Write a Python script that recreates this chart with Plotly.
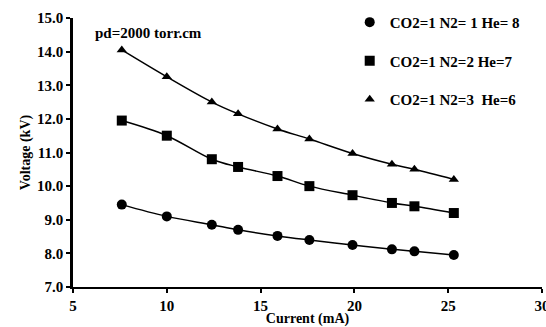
import plotly.graph_objects as go

current = [7.6, 10.0, 12.4, 13.8, 15.9, 17.6, 19.9, 22.0, 23.2, 25.3]
v_he8 = [9.45, 9.10, 8.85, 8.70, 8.52, 8.40, 8.25, 8.12, 8.06, 7.95]
v_he7 = [11.95, 11.50, 10.80, 10.57, 10.30, 10.00, 9.73, 9.50, 9.40, 9.20]
v_he6 = [14.05, 13.25, 12.50, 12.15, 11.70, 11.40, 10.97, 10.65, 10.50, 10.20]
names = ["CO2=1 N2= 1 He= 8", "CO2=1 N2=2 He=7", "CO2=1 N2=3  He=6"]
symbols = ["circle", "square", "triangle-up"]
sizes = [10, 10, 9]
series = [v_he8, v_he7, v_he6]
y_ticks = [7.0, 8.0, 9.0, 10.0, 11.0, 12.0, 13.0, 14.0, 15.0]
x_ticks = [5, 10, 15, 20, 25, 30]

font = "Liberation Serif"
fig = go.Figure()
for i, ys in enumerate(series):
    fig.add_trace(go.Scatter(x=current, y=ys, mode="lines", line=dict(color="black", width=1.5, shape="spline", smoothing=1.0),
                             showlegend=False, hoverinfo="skip"))
for i, ys in enumerate(series):
    fig.add_trace(go.Scatter(x=current, y=ys, mode="markers", name=names[i], legendgroup=str(i),
                             marker=dict(symbol=symbols[i], size=sizes[i], color="black")))

fig.update_layout(
    width=546, height=327,
    margin=dict(l=73, r=4, t=18, b=40),
    paper_bgcolor="white", plot_bgcolor="white",
    font=dict(family=font, color="black", size=15),
    showlegend=True,
    legend=dict(x=0.59, y=1.045, xanchor="left", yanchor="top", bgcolor="rgba(0,0,0,0)",
                font=dict(family=font, size=15, color="black", weight="bold"),
                tracegroupgap=16, itemwidth=30),
    annotations=[dict(x=9.0, y=14.55, xref="x", yref="y", text="<b>pd=2000 torr.cm</b>", showarrow=False,
                      font=dict(family=font, size=15, color="black"))],
)
fig.update_xaxes(range=[5, 30], tickvals=x_ticks, ticktext=[f"<b>{v}</b>" for v in x_ticks],
                 showgrid=False, zeroline=False, showline=True, linecolor="black", linewidth=2,
                 ticks="outside", ticklen=4, tickcolor="black", tickwidth=1.5, ticklabeloverflow="allow",
                 tickfont=dict(size=15), automargin=False,
                 title=dict(text="<b>Current (mA)</b>", standoff=1, font=dict(size=14)))
fig.update_yaxes(range=[7, 15], tickvals=y_ticks, ticktext=[f"<b>{v:.1f}</b>" for v in y_ticks],
                 showgrid=False, zeroline=False, showline=True, linecolor="black", linewidth=2.5,
                 ticks="outside", ticklen=4, tickcolor="black", tickwidth=1.5,
                 tickfont=dict(size=15), automargin=False,
                 title=dict(text="<b>Voltage (kV)</b>", standoff=4, font=dict(size=14)))
fig.write_html("out.html")
